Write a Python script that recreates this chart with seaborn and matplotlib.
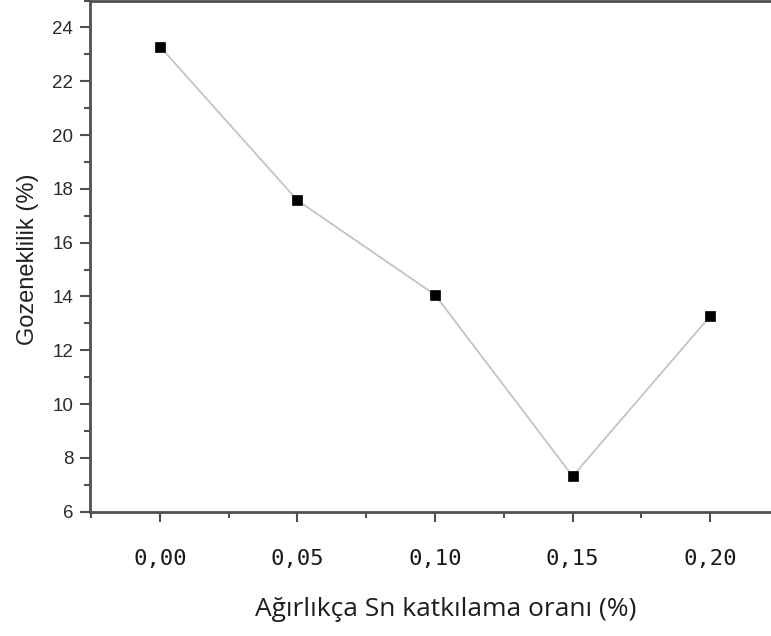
import matplotlib
matplotlib.use("Agg")
import matplotlib.pyplot as plt
import seaborn as sns
import pandas as pd
from matplotlib.ticker import MultipleLocator, FixedLocator, FixedFormatter

# Data
sn_ratio = [0.00, 0.05, 0.10, 0.15, 0.20]
porosity = [23.29, 17.57, 14.06, 7.32, 13.27]
x_tick_values = [0.00, 0.05, 0.10, 0.15, 0.20]
x_tick_labels = ["0,00", "0,05", "0,10", "0,15", "0,20"]
y_tick_values = [6, 8, 10, 12, 14, 16, 18, 20, 22, 24]

df = pd.DataFrame({"x": sn_ratio, "y": porosity})

sns.set_theme(style="ticks")
plt.rcParams["font.family"] = ["Liberation Sans", "DejaVu Sans"]

W, H = 771, 636
fig = plt.figure(figsize=(W / 100, H / 100), dpi=100)
ax_l, ax_r = 90, 779
ax_b, ax_t = 511.7, 0.5
ax = fig.add_axes([ax_l / W, 1 - ax_b / H, (ax_r - ax_l) / W, (ax_b - ax_t) / H])

sns.lineplot(data=df, x="x", y="y", ax=ax, color="#c4c4c4", linewidth=1.3,
             marker="s", markersize=7.5, markerfacecolor="black",
             markeredgecolor="black", markeredgewidth=0.5)

ax.set_xlim(-0.0254, 0.225)
ax.set_ylim(6, 25)

spine_col = "#505050"
for s in ax.spines.values():
    s.set_color(spine_col)
    s.set_linewidth(2)
    s.set_visible(True)

ax.xaxis.set_major_locator(FixedLocator(x_tick_values))
ax.xaxis.set_major_formatter(FixedFormatter(x_tick_labels))
ax.xaxis.set_minor_locator(MultipleLocator(0.025))
ax.yaxis.set_major_locator(FixedLocator(y_tick_values))
ax.yaxis.set_minor_locator(MultipleLocator(1))

ax.tick_params(axis="both", which="major", direction="out", length=7, width=1.5,
               color=spine_col, top=False, right=False)
ax.tick_params(axis="both", which="minor", direction="out", length=4, width=1.5,
               color=spine_col, top=False, right=False)
ax.tick_params(axis="y", which="major", labelsize=13.5, labelcolor="#2a2a2a", pad=5)
ax.tick_params(axis="x", which="major", labelsize=16, labelcolor="#1a1a1a", pad=20)
for lab in ax.get_xticklabels():
    lab.set_family(["DejaVu Sans Mono"])

aw, ah = ax_r - ax_l, ax_b - ax_t
ax.set_xlabel("Ağırlıkça Sn katkılama oranı (%)", fontsize=19, color="#1e1e1e",
              family=["Open Sans", "DejaVu Sans"], va="center")
ax.xaxis.set_label_coords((446 - ax_l) / aw, (ax_b - 610) / ah)
ax.set_ylabel("Gozeneklilik (%)", fontsize=17, color="#222222", va="center")
ax.yaxis.set_label_coords((28 - ax_l) / aw, (ax_b - 259) / ah)

fig.savefig("out.png", dpi=100)
